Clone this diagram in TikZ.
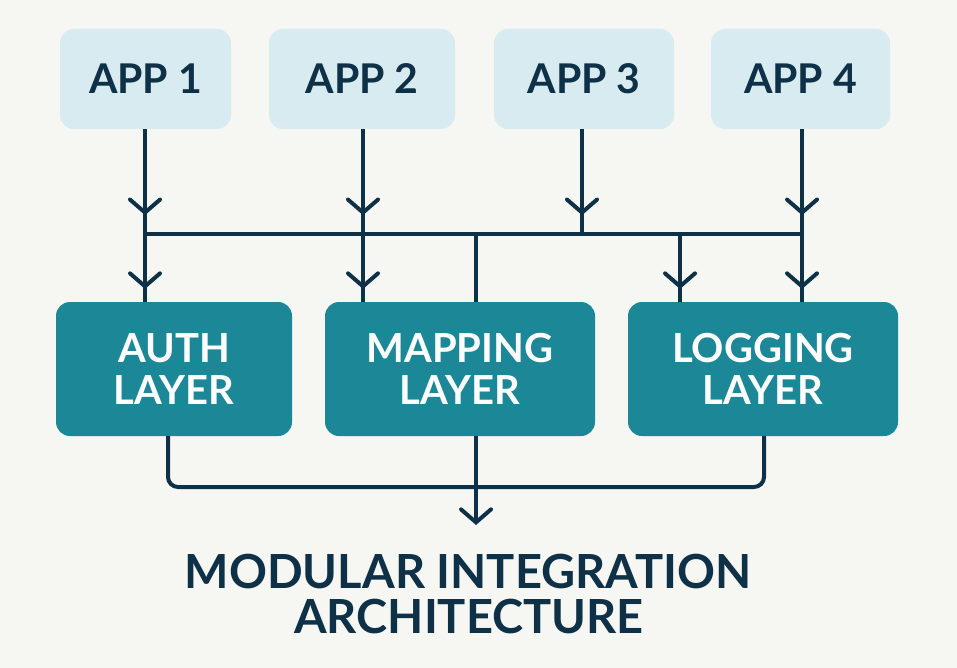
\documentclass[tikz,border=0pt]{standalone}
\usepackage{fontspec}
\setmainfont{Lato}
\usetikzlibrary{arrows.meta}
\definecolor{bgc}{HTML}{F6F6F3}
\definecolor{appc}{HTML}{D8EBF1}
\definecolor{layc}{HTML}{1B8797}
\definecolor{ink}{HTML}{0E3148}
\tikzset{
  appbox/.style={rectangle, rounded corners=14pt, fill=appc, minimum height=100pt, inner sep=0pt,
    font=\fontsize{41}{41}\selectfont\bfseries, text=ink},
  laybox/.style={rectangle, rounded corners=14pt, fill=layc, minimum height=134pt, inner sep=0pt,
    font=\fontsize{40}{42}\selectfont\bfseries, text=white, align=center},
  wire/.style={draw=ink, line width=4pt},
  arr/.style={wire, -{Straight Barb[length=13pt, width=30pt, line width=4pt, line cap=round]}},
  titlef/.style={font=\fontsize{47}{47}\selectfont\bfseries, text=ink, inner sep=0pt}
}
\begin{document}
\begin{tikzpicture}[x=1pt, y=-1pt]
\fill[bgc] (0,0) rectangle (957,668);
\useasboundingbox (0,0) rectangle (957,668);
% apps
\node[appbox, minimum width=171pt] (a1) at (145.5,79) {APP 1};
\node[appbox, minimum width=186pt] (a2) at (362,79) {APP 2};
\node[appbox, minimum width=180pt] (a3) at (584,79) {APP 3};
\node[appbox, minimum width=179pt] (a4) at (800.5,79) {APP 4};
% layers
\node[laybox, minimum width=236pt] (l1) at (174,369) {AUTH\\LAYER};
\node[laybox, minimum width=270pt] (l2) at (460,369) {MAPPING\\LAYER};
\node[laybox, minimum width=270pt] (l3) at (763,369) {LOGGING\\LAYER};
% bus coordinates
\coordinate (b1) at (145,234);
\coordinate (b2) at (363,234);
\coordinate (b3) at (582,234);
\coordinate (b4) at (802,234);
\coordinate (bm) at (476,234);
\coordinate (bl) at (680,234);
% app drops
\draw[wire] (b1 |- a1.south) -- (b1);
\draw[wire] (b2 |- a2.south) -- (b2);
\draw[wire] (b3 |- a3.south) -- (b3);
\draw[wire] (b4 |- a4.south) -- (b4);
\draw[arr] (b1 |- a1.south) -- ++(0,86);
\draw[arr] (b2 |- a2.south) -- ++(0,86);
\draw[arr] (b3 |- a3.south) -- ++(0,86);
\draw[arr] (b4 |- a4.south) -- ++(0,86);
% bus
\draw[wire] (b1) -- (b4);
% layer drops
\draw[wire] (b1) -- (b1 |- l1.north);
\draw[wire] (b2) -- (b2 |- l2.north);
\draw[wire] (bm) -- (bm |- l2.north);
\draw[wire] (bl) -- (bl |- l3.north);
\draw[wire] (b4) -- (b4 |- l3.north);
\draw[arr] (b1) -- ++(0,55);
\draw[arr] (b2) -- ++(0,55);
\draw[arr] (bl) -- ++(0,55);
\draw[arr] (b4) -- ++(0,55);
% bottom
\coordinate (o1) at (168,487);
\coordinate (o3) at (764,487);
\coordinate (out) at (476,525);
\draw[wire, rounded corners=10pt] (o1 |- l1.south) -- (o1) -- (o3) -- (o3 |- l3.south);
\draw[arr] (out |- l2.south) -- (out);
% title
\node[titlef] (t1) at (468,572) {MODULAR INTEGRATION};
\node[titlef] (t2) at (469,617) {ARCHITECTURE};
\end{tikzpicture}
\end{document}
